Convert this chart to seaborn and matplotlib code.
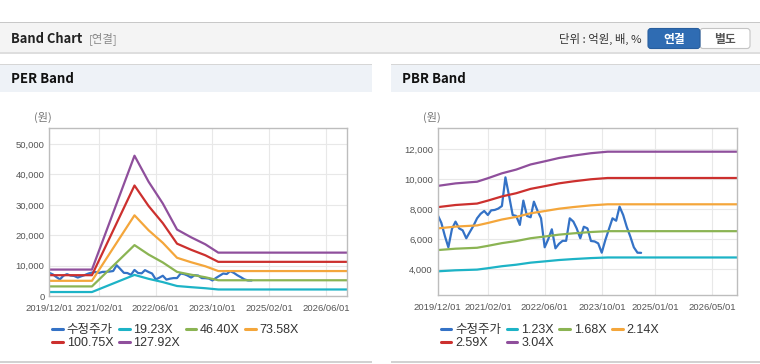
import matplotlib
matplotlib.use("Agg")
import matplotlib.pyplot as plt
import matplotlib.dates as mdates
from matplotlib.patches import Rectangle, FancyBboxPatch
from matplotlib.ticker import FuncFormatter
import pandas as pd
import seaborn as sns

# adjusted close price (monthly, 2019/12 .. 2024/09)
price_dates = pd.date_range("2019-12-01", periods=58, freq="MS")
price = [7620, 7100, 6200, 5470, 6700, 7180, 6730, 6600, 6070, 6500,
         6900, 7400, 7700, 7890, 7620, 7930, 7960, 8050, 8220, 10130,
         8900, 7620, 7560, 6960, 8580, 7560, 7470, 8510, 7900, 7400,
         5470, 6000, 6670, 5400, 5700, 5900, 5900, 7400, 7180, 6730,
         6070, 6840, 6730, 5890, 5860, 5730, 5110, 5960, 6670, 7400,
         7240, 8180, 7620, 6840, 6180, 5470, 5110, 5100]

# PER band values
per_dates = pd.to_datetime(["2019-12-01", "2020-12-01", "2021-12-01", "2022-04-01",
                            "2022-08-01", "2022-12-01", "2023-04-01", "2023-08-01",
                            "2023-11-20", "2026-12-01"])
per_labels = ["19.23X", "46.40X", "73.58X", "100.75X", "127.92X"]
per_1923 = [1308, 1308, 6942, 5654, 4577, 3288, 2904, 2558, 2146, 2146]
per_4640 = [3155, 3155, 16750, 13642, 11043, 7934, 7006, 6171, 5178, 5178]
per_7358 = [5003, 5003, 26562, 21633, 17512, 12582, 11111, 9786, 8212, 8212]
per_10075 = [6851, 6851, 36371, 29621, 23979, 17228, 15213, 13400, 11244, 11244]
per_12792 = [8699, 8699, 46179, 37608, 30445, 21874, 19316, 17013, 14276, 14276]

# PBR band values
pbr_dates = pd.to_datetime(["2019-12-01", "2020-05-01", "2020-11-01", "2021-02-01",
                            "2021-06-01", "2021-10-01", "2022-02-01", "2022-06-01",
                            "2022-10-01", "2023-02-01", "2023-07-01", "2023-11-20",
                            "2026-12-01"])
pbr_labels = ["1.23X", "1.68X", "2.14X", "2.59X", "3.04X"]
pbr_123 = [3868, 3936, 3982, 4075, 4208, 4309, 4446, 4531, 4621, 4685, 4750, 4791, 4791]
pbr_168 = [5284, 5376, 5438, 5566, 5747, 5885, 6073, 6189, 6312, 6399, 6488, 6544, 6544]
pbr_214 = [6730, 6848, 6927, 7090, 7321, 7496, 7736, 7884, 8040, 8151, 8265, 8335, 8335]
pbr_259 = [8145, 8288, 8384, 8581, 8860, 9073, 9363, 9542, 9731, 9865, 10003, 10088, 10088]
pbr_304 = [9561, 9728, 9840, 10072, 10400, 10649, 10990, 11199, 11421, 11579, 11740, 11841, 11841]

per_ticks = ["2019-12-01", "2021-02-01", "2022-06-01", "2023-10-01", "2025-02-01", "2026-06-01"]
pbr_ticks = ["2019-12-01", "2021-02-01", "2022-06-01", "2023-10-01", "2025-01-01", "2026-05-01"]

price_color = "#3472c6"
band_colors = ["#1db3c6", "#8bb453", "#f4a63b", "#cc302e", "#8f4f9c"]

sns.set_style("white")
plt.rcParams["font.family"] = ["Liberation Sans", "Noto Sans CJK KR"]
KR = ["Noto Sans CJK KR", "DejaVu Sans"]

fig = plt.figure(figsize=(7.6, 3.64), dpi=100)

# page chrome drawn in pixel coordinates
bg = fig.add_axes([0, 0, 1, 1])
bg.set_xlim(0, 760)
bg.set_ylim(364, 0)
bg.axis("off")
bg.add_patch(Rectangle((0, 23), 760, 29, color="#f4f4f4", lw=0))
bg.add_patch(Rectangle((0, 21.5), 760, 1.6, color="#c8c8c8", lw=0))
bg.add_patch(Rectangle((0, 52), 760, 1.5, color="#dedede", lw=0))
bg.text(11, 39, "Band Chart", fontsize=9.3, fontweight="bold", color="#222",
        family=KR, va="center")
bg.text(89, 39, "[연결]", fontsize=8.2, color="#888", family=KR, va="center")
bg.text(642, 39, "단위 : 억원, 배, %", fontsize=8.2, color="#333", family=KR,
        va="center", ha="right")
bg.add_patch(FancyBboxPatch((700, 28.5), 50, 20, boxstyle="round,pad=0,rounding_size=3",
                            fc="white", ec="#c4c4c4", lw=0.8))
bg.add_patch(FancyBboxPatch((648, 28.5), 52, 20, boxstyle="round,pad=0,rounding_size=3",
                            fc="#2f6cb3", ec="#285e9e", lw=0.8))
bg.text(674, 39, "연결", fontsize=8.5, fontweight="bold", color="white", family=KR,
        ha="center", va="center")
bg.text(725, 39, "별도", fontsize=8.5, fontweight="bold", color="#555", family=KR,
        ha="center", va="center")

for x0, w, title in [(0, 372, "PER Band"), (391, 369, "PBR Band")]:
    bg.add_patch(Rectangle((x0, 64), w, 28, color="#eef2f7", lw=0))
    bg.add_patch(Rectangle((x0, 63.5), w, 1.2, color="#d6d6d6", lw=0))
    bg.add_patch(Rectangle((x0, 361), w, 1.6, color="#d2d2d2", lw=0))
    bg.text(x0 + 11, 79, title, fontsize=9.5, fontweight="bold", color="#111",
            family=KR, va="center")


def draw_panel(rect, band_dates, bands, labels, ylim, yticks, xticks, unit_x):
    ax = fig.add_axes(rect)
    ax.set_facecolor("white")
    sns.lineplot(x=price_dates, y=price, ax=ax, color=price_color, linewidth=1.6,
                 label="수정주가")
    for vals, col, lab in zip(bands, band_colors, labels):
        sns.lineplot(x=band_dates, y=vals, ax=ax, color=col, linewidth=1.6, label=lab)
    ax.set_xlim(pd.Timestamp("2019-12-01"), pd.Timestamp("2026-12-01"))
    ax.set_ylim(*ylim)
    ax.set_xticks(pd.to_datetime(xticks))
    ax.xaxis.set_major_formatter(mdates.DateFormatter("%Y/%m/%d"))
    ax.set_yticks(yticks)
    ax.yaxis.set_major_formatter(FuncFormatter(lambda v, p: f"{v:,.0f}"))
    ax.grid(True, color="#e8e8e8", lw=0.8)
    ax.set_axisbelow(True)
    for s in ax.spines.values():
        s.set_color("#bdbdbd")
        s.set_linewidth(1.0)
    ax.tick_params(axis="x", length=3, width=0.8, color="#b0b0b0", pad=2.5,
                   labelsize=6.8, labelcolor="#555")
    ax.tick_params(axis="y", length=0, pad=3.5, labelsize=6.8, labelcolor="#555")
    ax.set_xlabel("")
    ax.set_ylabel("")
    fig.text(unit_x / 760, 1 - 117 / 364, "(원)", fontsize=8, color="#777",
             family=KR, ha="center", va="center")
    h, l = ax.get_legend_handles_labels()
    order = [0, 4, 1, 5, 2, 3]
    leg = ax.legend([h[i] for i in order], [l[i] for i in order], ncol=4,
                    loc="upper left", bbox_to_anchor=(rect[0] + 3 / 760, 1 - 324 / 364),
                    bbox_transform=fig.transFigure, frameon=False, fontsize=9,
                    handlelength=0.85, handletextpad=0.3, columnspacing=0.45,
                    labelspacing=0.12, borderpad=0, borderaxespad=0)
    for t in leg.get_texts():
        t.set_color("#333")
    for ln in leg.get_lines():
        ln.set_linewidth(2.2)
    return ax


draw_panel([49.3 / 760, 68 / 364, 298 / 760, 168 / 364], per_dates,
           [per_1923, per_4640, per_7358, per_10075, per_12792], per_labels,
           (0, 55300), [0, 10000, 20000, 30000, 40000, 50000], per_ticks, 43)
draw_panel([437.7 / 760, 69 / 364, 299.6 / 760, 166.7 / 364], pbr_dates,
           [pbr_123, pbr_168, pbr_214, pbr_259, pbr_304], pbr_labels,
           (2290, 13400), [4000, 6000, 8000, 10000, 12000], pbr_ticks, 432)

fig.savefig("out.png", dpi=100)
